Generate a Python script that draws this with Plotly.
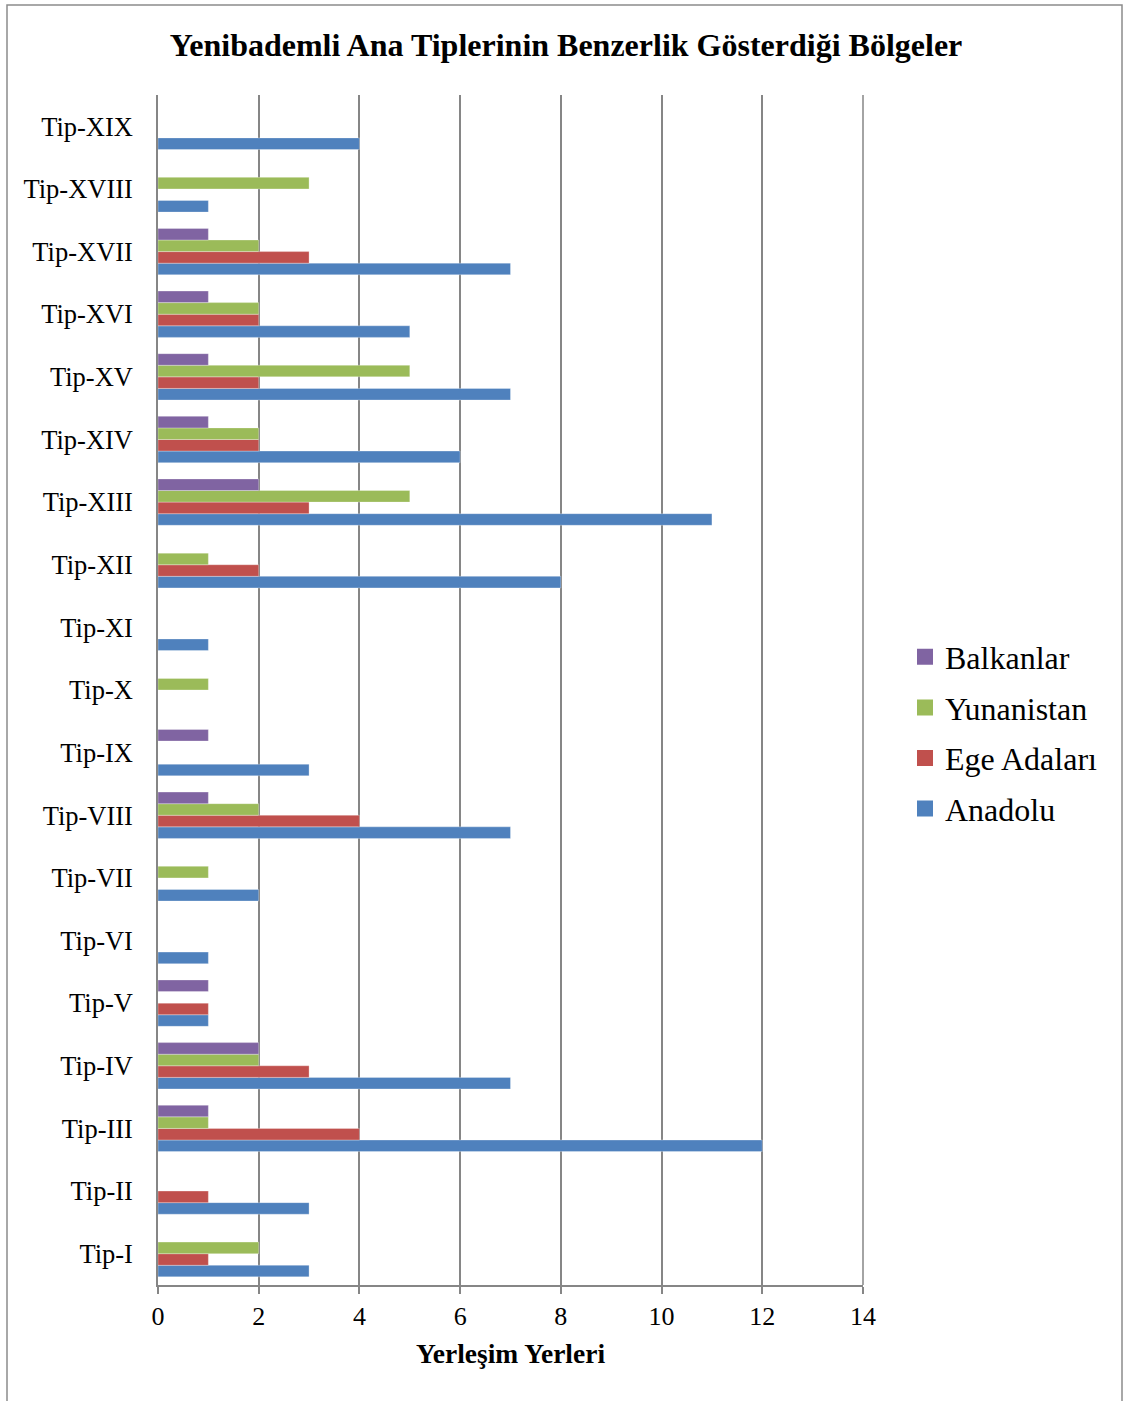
import plotly.graph_objects as go

categories = ["Tip-I", "Tip-II", "Tip-III", "Tip-IV", "Tip-V", "Tip-VI", "Tip-VII",
              "Tip-VIII", "Tip-IX", "Tip-X", "Tip-XI", "Tip-XII", "Tip-XIII", "Tip-XIV",
              "Tip-XV", "Tip-XVI", "Tip-XVII", "Tip-XVIII", "Tip-XIX"]
anadolu     = [3, 3, 12, 7, 1, 1, 2, 7, 3, 0, 1, 8, 11, 6, 7, 5, 7, 1, 4]
ege_adalari = [1, 1, 4, 3, 1, 0, 0, 4, 0, 0, 0, 2, 3, 2, 2, 2, 3, 0, 0]
yunanistan  = [2, 0, 1, 2, 0, 0, 1, 2, 0, 1, 0, 1, 5, 2, 5, 2, 2, 3, 0]
balkanlar   = [0, 0, 1, 2, 1, 0, 0, 1, 1, 0, 0, 0, 2, 1, 1, 1, 1, 0, 0]
x_ticks = [0, 2, 4, 6, 8, 10, 12, 14]

series = [
    ("Anadolu", anadolu, "#4F81BD"),
    ("Ege Adaları", ege_adalari, "#C0504D"),
    ("Yunanistan", yunanistan, "#9BBB59"),
    ("Balkanlar", balkanlar, "#8064A2"),
]

FONT = "Liberation Serif, Times New Roman, serif"
GRID = "#868686"

fig = go.Figure()
for name, vals, color in series:
    fig.add_trace(go.Bar(
        y=categories, x=vals, name=name, orientation="h", showlegend=False,
        marker=dict(color=color, line=dict(color="rgba(255,255,255,0.6)", width=0.5)),
    ))
# legend entries (Balkanlar first, top)
for name, vals, color in reversed(series):
    fig.add_trace(go.Scatter(
        x=[None], y=[None], mode="markers", name=name, legendgroup=name,
        marker=dict(symbol="square", size=16, color=color),
    ))

W, H = 1124, 1401
L, R, T, B = 158, 1124 - 863, 95, 1401 - 1285
pw, ph = W - L - R, H - T - B

fig.update_layout(
    width=W, height=H,
    margin=dict(l=L, r=R, t=T, b=B, autoexpand=False),
    barmode="group", bargap=0.26, bargroupgap=0,
    plot_bgcolor="white", paper_bgcolor="white",
    font=dict(family=FONT, color="black"),
    title=dict(text="<b>Yenibademli Ana Tiplerinin Benzerlik Gösterdiği Bölgeler</b>",
               x=566 / W, xanchor="center", y=1 - 45 / H, yanchor="middle",
               xref="container", yref="container",
               font=dict(size=32, family=FONT, color="black")),
    legend=dict(x=(905 - L) / pw, xanchor="left", y=(1285 - 733) / ph, yanchor="middle",
                traceorder="grouped", font=dict(size=32, family=FONT),
                itemsizing="trace", tracegroupgap=6, bgcolor="rgba(0,0,0,0)",
                itemwidth=30),
    xaxis=dict(range=[0, 14], tickvals=x_ticks, showgrid=True, gridcolor=GRID, gridwidth=1.5,
               showline=True, linecolor=GRID, linewidth=1.5, zeroline=False,
               ticks="outside", ticklen=7, tickcolor=GRID, tickwidth=1.5,
               tickfont=dict(size=26, family=FONT),
               title=dict(text="<b>Yerleşim Yerleri</b>", font=dict(size=27.5, family=FONT), standoff=14)),
    yaxis=dict(showgrid=False, showline=True, linecolor=GRID, linewidth=1.5, ticks="",
               tickfont=dict(size=26.5, family=FONT), ticklabelstandoff=18),
    shapes=[dict(type="line", xref="paper", yref="paper", x0=1, x1=1, y0=0, y1=1,
                 line=dict(color=GRID, width=1.5)),
            dict(type="rect", xref="paper", yref="paper",
                 x0=(7 - L) / pw, x1=(1122 - L) / pw, y0=(1285 - 1410) / ph, y1=(1285 - 5) / ph,
                 line=dict(color="#8c8c8c", width=1.5), layer="below")],
)

fig.write_html("out.html", config={"displayModeBar": False},
               post_script="document.body.style.margin='0px';")
